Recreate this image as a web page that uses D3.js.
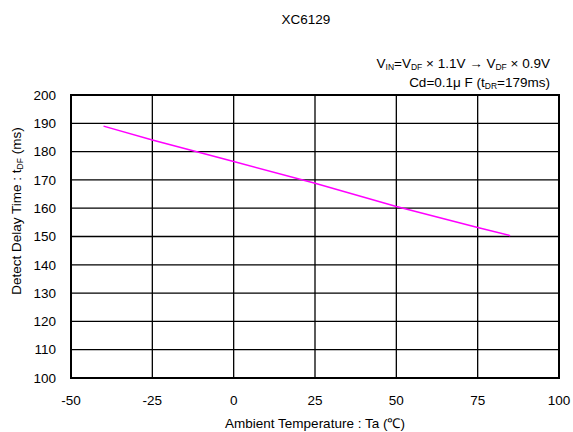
<!DOCTYPE html>
<html>
<head>
<meta charset="utf-8">
<script src="https://cdn.jsdelivr.net/npm/d3@7"></script>
<style>
  body { margin: 0; background: #fff; }
  text { font-family: "Liberation Sans", Arial, sans-serif; fill: #000; }
</style>
</head>
<body>
<div id="chart"></div>
<script>
// data
const temps = [-40, -25, 0, 25, 50, 75, 85];
const delays = [189, 184.1, 176.5, 168.8, 160.6, 153.2, 150.3];
const xTicks = [-50, -25, 0, 25, 50, 75, 100];
const yTicks = [100, 110, 120, 130, 140, 150, 160, 170, 180, 190, 200];

const width = 573, height = 432;
const margin = { top: 95, right: 14, bottom: 54, left: 71 };
const fs = 13.5;

const svg = d3.select('#chart')
    .append('svg')
    .attr('width', width)
    .attr('height', height);

const x = d3.scaleLinear().domain([-50, 100]).range([margin.left, width - margin.right]);
const y = d3.scaleLinear().domain([100, 200]).range([height - margin.bottom, margin.top]);

// grid
svg.append('g')
    .selectAll('line')
    .data(xTicks)
    .join('line')
    .attr('x1', d => x(d)).attr('x2', d => x(d))
    .attr('y1', y(100)).attr('y2', y(200))
    .attr('stroke', '#000').attr('stroke-width', 1.3);

svg.append('g')
    .selectAll('line')
    .data(yTicks)
    .join('line')
    .attr('x1', x(-50)).attr('x2', x(100))
    .attr('y1', d => y(d)).attr('y2', d => y(d))
    .attr('stroke', '#000').attr('stroke-width', 1.3);

// frame
svg.append('rect')
    .attr('x', x(-50)).attr('y', y(200))
    .attr('width', x(100) - x(-50)).attr('height', y(100) - y(200))
    .attr('fill', 'none').attr('stroke', '#000').attr('stroke-width', 2);

// tick labels
svg.append('g')
    .selectAll('text')
    .data(yTicks)
    .join('text')
    .attr('x', x(-50) - 15)
    .attr('y', d => y(d))
    .attr('dy', '0.35em')
    .attr('text-anchor', 'end')
    .attr('font-size', fs)
    .text(d => d);

svg.append('g')
    .selectAll('text')
    .data(xTicks)
    .join('text')
    .attr('x', d => x(d))
    .attr('y', 405)
    .attr('text-anchor', 'middle')
    .attr('font-size', fs)
    .text(d => d);

// series
const line = d3.line()
    .x((d, i) => x(temps[i]))
    .y(d => y(d));

svg.append('path')
    .datum(delays)
    .attr('d', line)
    .attr('fill', 'none')
    .attr('stroke', '#ff00ff')
    .attr('stroke-width', 1.5);

// titles
svg.append('text')
    .attr('x', 306).attr('y', 24)
    .attr('text-anchor', 'middle')
    .attr('font-size', fs)
    .text('XC6129');

const sub = (t, s) => { t.append('tspan').attr('font-size', 8.5).attr('dy', 2).text(s); };

const note1 = svg.append('text')
    .attr('x', 550).attr('y', 68)
    .attr('text-anchor', 'end')
    .attr('font-size', fs);
note1.append('tspan').text('V');
sub(note1, 'IN');
note1.append('tspan').attr('dy', -2).text('=V');
sub(note1, 'DF');
note1.append('tspan').attr('dy', -2).text(' \u00d7 1.1V \u2192 V');
sub(note1, 'DF');
note1.append('tspan').attr('dy', -2).text(' \u00d7 0.9V');

const note2 = svg.append('text')
    .attr('x', 550).attr('y', 87)
    .attr('text-anchor', 'end')
    .attr('font-size', fs);
note2.append('tspan').text('Cd=0.1\u03bc F (t');
sub(note2, 'DR');
note2.append('tspan').attr('dy', -2).text('=179ms)');

svg.append('text')
    .attr('x', x(25)).attr('y', 428)
    .attr('text-anchor', 'middle')
    .attr('font-size', fs)
    .text('Ambient Temperature : Ta (\u2103)');

const yTitle = svg.append('text')
    .attr('transform', 'translate(21,211) rotate(-90)')
    .attr('text-anchor', 'middle')
    .attr('font-size', fs);
yTitle.append('tspan').text('Detect Delay Time : t');
sub(yTitle, 'DF');
yTitle.append('tspan').attr('dy', -2).text(' (ms)');
</script>
</body>
</html>
